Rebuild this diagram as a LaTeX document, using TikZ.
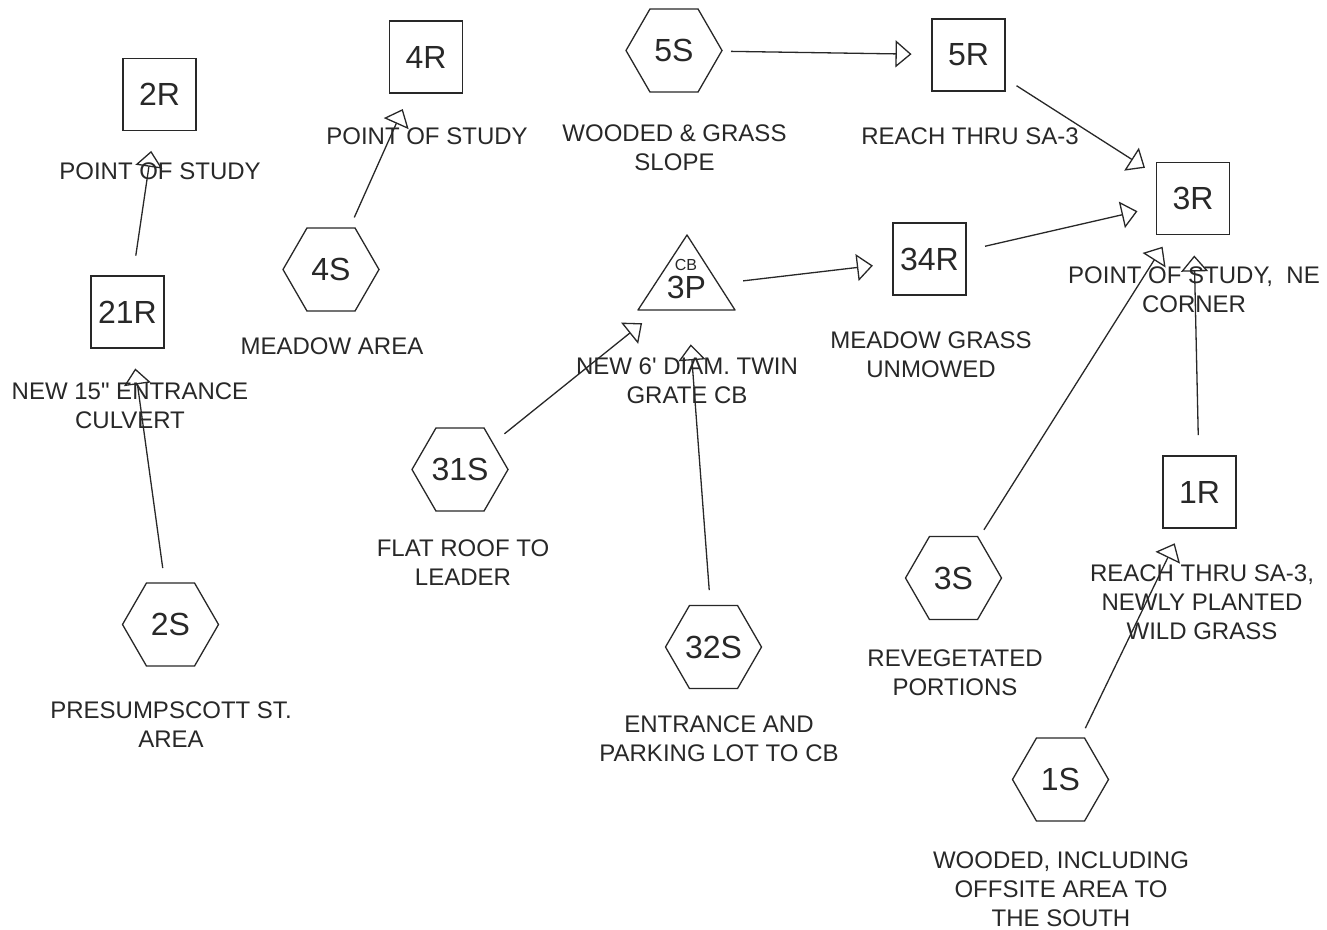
\documentclass[tikz,border=0pt]{standalone}
\usepackage{fontspec}
\setmainfont{Liberation Sans}[Ligatures=TeXOff]
\usetikzlibrary{shapes.geometric,arrows.meta}
\definecolor{ink}{RGB}{40,40,40}
\begin{document}
\begin{tikzpicture}[x=1pt,y=-1pt,
  every node/.style={text=ink},
  reach/.style={draw=ink, line width=1.3pt, rectangle, minimum width=73pt, minimum height=72pt, inner sep=0pt, font=\fontsize{32}{32}\selectfont},
  subcat/.style={draw=ink, line width=1.3pt, regular polygon, regular polygon sides=6, minimum size=96pt, inner sep=0pt, font=\fontsize{32}{32}\selectfont},
  lbl/.style={anchor=north, align=center, inner sep=0pt, font=\fontsize{24}{28.7}\selectfont},
  flow/.style={draw=ink, line width=1.3pt, shorten <=57pt, shorten >=57pt, -{Triangle[open,length=16pt,width=27pt]}}
]
\fill[white] (0,0) rectangle (1327,929);
\useasboundingbox (0,0) rectangle (1327,929);

% reaches
\node[reach] (2R)  at (159.5,94.5) {2R};
\node[reach] (4R)  at (426,57)     {4R};
\node[reach] (5R)  at (968.5,55)   {5R};
\node[reach] (3R)  at (1193,198.5) {3R};
\node[reach] (34R) at (929.5,259)  {34R};
\node[reach] (21R) at (127.5,312)  {21R};
\node[reach] (1R)  at (1199.5,492) {1R};

% subcatchments
\node[subcat] (5S)  at (674,50.5)    {5S};
\node[subcat] (4S)  at (331,269.5)   {4S};
\node[subcat] (31S) at (460,469.5)   {31S};
\node[subcat] (2S)  at (170.5,624.5) {2S};
\node[subcat] (32S) at (713.5,647)   {32S};
\node[subcat] (3S)  at (953.5,578)   {3S};
\node[subcat] (1S)  at (1060.5,779.5) {1S};

% pond
\draw[ink, line width=1.3pt, line join=round] (638,310) -- (687,235) -- (735,310) -- cycle;
\node[inner sep=0pt, font=\fontsize{16}{16}\selectfont] (3Pcb) at (686,264.5) {CB};
\node[inner sep=0pt, font=\fontsize{32}{32}\selectfont] (3P) at (686.5,287.5) {3P};

% labels
\node[lbl] (l2R)  at (160,163)   {POINT OF STUDY};
\node[lbl] (l4R)  at (427,128)   {POINT OF STUDY};
\node[lbl] (l5S)  at (674.5,125) {WOODED \& GRASS\\SLOPE};
\node[lbl] (l5R)  at (970,128)   {REACH THRU SA-3};
\node[lbl] (l3R)  at (1194,267)  {POINT OF STUDY,\ \ NE\\CORNER};
\node[lbl] (l4S)  at (332,338)   {MEADOW AREA};
\node[lbl] (l21R) at (130,383)   {NEW 15" ENTRANCE\\CULVERT};
\node[lbl] (l34R) at (931,332)   {MEADOW GRASS\\UNMOWED};
\node[lbl] (l3P)  at (687,358)   {NEW 6' DIAM. TWIN\\GRATE CB};
\node[lbl] (l31S) at (463,540)   {FLAT ROOF TO\\LEADER};
\node[lbl] (l2S)  at (171,702)   {PRESUMPSCOTT ST.\\AREA};
\node[lbl] (l3S)  at (955,650)   {REVEGETATED\\PORTIONS};
\node[lbl] (l32S) at (719,716)   {ENTRANCE AND\\PARKING LOT TO CB};
\node[lbl] (l1R)  at (1202,565)  {REACH THRU SA-3,\\NEWLY PLANTED\\WILD GRASS};
\node[lbl] (l1S)  at (1061,852)  {WOODED, INCLUDING\\OFFSITE AREA TO\\THE SOUTH};

% connectors
\draw[flow] (21R.center) -- (2R.center);
\draw[flow] (2S.center)  -- (21R.center);
\draw[flow] (4S.center)  -- (4R.center);
\draw[flow] (5S.center)  -- (5R.center);
\draw[flow] (5R.center)  -- (3R.center);
\draw[flow] (34R.center) -- (3R.center);
\draw[flow] (3P.center)  -- (34R.center);
\draw[flow] (31S.center) -- (3P.center);
\draw[flow] (32S.center) -- (3P.center);
\draw[flow] (3S.center)  -- (3R.center);
\draw[flow] (1R.center)  -- (3R.center);
\draw[flow] (1S.center)  -- (1R.center);
\end{tikzpicture}
\end{document}
